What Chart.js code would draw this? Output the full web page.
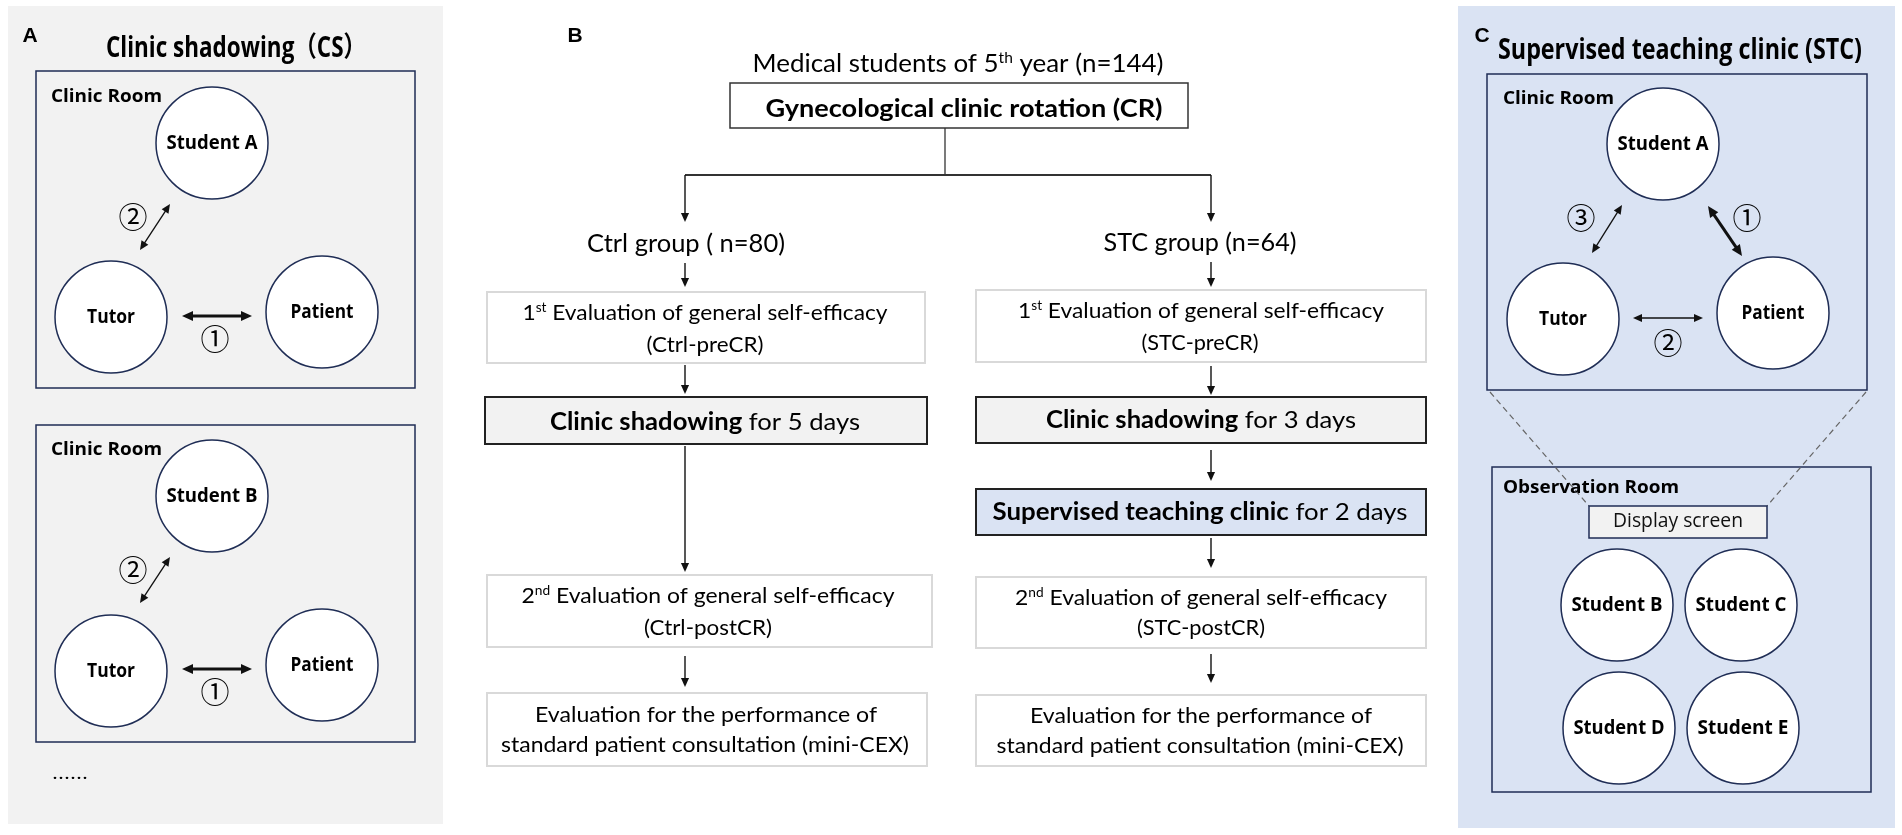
<!DOCTYPE html>
<html>
<head>
<meta charset="utf-8">
<script src="https://cdn.jsdelivr.net/npm/chart.js@4.4.1/dist/chart.umd.min.js"></script>
<style>
  html, body { margin: 0; padding: 0; background: #fff; overflow: hidden; }
  #wrap { width: 1902px; height: 835px; position: relative; }
</style>
</head>
<body>
<div id="wrap"><canvas id="diagram"></canvas></div>
<script>
// --- texts of the figure ---
const panelLetters = ['A', 'B', 'C'];
const csTitle = 'Clinic shadowing（CS）';
const stcTitle = 'Supervised teaching clinic (STC)';
const clinicRoom = 'Clinic Room';
const observationRoom = 'Observation Room';
const displayScreen = 'Display screen';
const csStudents = ['Student A', 'Student B'];
const roles = ['Tutor', 'Patient'];
const observers = ['Student B', 'Student C', 'Student D', 'Student E'];
const stepMarks = ['①', '②', '③'];
const cohort = 'Medical students of 5^th^ year (n=144)';
const rotation = '**Gynecological clinic rotation (CR)**';
const groupNames = ['Ctrl group ( n=80)', 'STC group (n=64)'];
const groupCodes = ['Ctrl', 'STC'];
const shadowDays = [5, 3];
const stcDays = [2];
const evalTitles = ['1^st^ Evaluation of general self-efficacy', '2^nd^ Evaluation of general self-efficacy'];
const evalPhases = ['preCR', 'postCR'];
const miniCex = ['Evaluation for the performance of', 'standard patient consultation (mini-CEX)'];

// --- layout (canvas units, 1902 x 835) ---
const circleSpots = [
    [212, 143], [111, 317], [322, 312],
    [212, 496], [111, 671], [322, 665],
    [1663, 144], [1563, 319], [1773, 313],
    [1617, 605], [1741, 605], [1619, 728], [1743, 728]
];
const circleNames = [csStudents[0], roles[0], roles[1], csStudents[1], roles[0], roles[1],
    csStudents[0], roles[0], roles[1], ...observers];
const circleR = 56;
const nameWidth = { Tutor: 48, Patient: 63 };

const NAVY = '#1f2d55';
const FLOW = '"Lato", "Open Sans", sans-serif';
const BOLDF = '"Open Sans", "Noto Sans CJK SC", sans-serif';
const MARKF = '"Noto Sans CJK SC", "DejaVu Sans", sans-serif';

function parseRich(str) {
    const segs = [];
    let bold = false, sup = false, buf = '';
    for (let i = 0; i < str.length; i++) {
        if (str[i] === '*' && str[i + 1] === '*') {
            if (buf) segs.push({ t: buf, bold, sup });
            buf = ''; bold = !bold; i++; continue;
        }
        if (str[i] === '^') {
            if (buf) segs.push({ t: buf, bold, sup });
            buf = ''; sup = !sup; continue;
        }
        buf += str[i];
    }
    if (buf) segs.push({ t: buf, bold, sup });
    return segs;
}

// draws text centred (or left aligned) and squeezed to a target width
function drawText(ctx, str, x, y, o) {
    const segs = parseRich(str);
    const size = o.size;
    const fontOf = s => `${(s.bold || o.bold) ? 'bold' : 'normal'} ${s.sup ? size * 0.6 : size}px ${o.family}`;
    let w = 0;
    segs.forEach(s => { ctx.font = fontOf(s); s.w = ctx.measureText(s.t).width; w += s.w; });
    const k = o.fit ? o.fit / w : 1;
    ctx.save();
    ctx.translate(x, y);
    ctx.scale(k, 1);
    ctx.fillStyle = o.color || '#000';
    ctx.textBaseline = o.middle ? 'middle' : 'alphabetic';
    ctx.textAlign = 'left';
    let cx = o.align === 'left' ? 0 : -w / 2;
    segs.forEach(s => {
        ctx.font = fontOf(s);
        ctx.fillText(s.t, cx, s.sup ? -size * 0.36 : 0);
        cx += s.w;
    });
    ctx.restore();
}

const diagramPlugin = {
    id: 'diagram',
    beforeDatasetsDraw(chart) {
        const ctx = chart.ctx;
        const X = v => chart.scales.x.getPixelForValue(v);
        const Y = v => chart.scales.y.getPixelForValue(v);

        function box(x0, y0, x1, y1, fill, stroke, lw) {
            ctx.save();
            if (fill) { ctx.fillStyle = fill; ctx.fillRect(X(x0), Y(y0), X(x1) - X(x0), Y(y1) - Y(y0)); }
            if (stroke) { ctx.strokeStyle = stroke; ctx.lineWidth = lw; ctx.strokeRect(X(x0), Y(y0), X(x1) - X(x0), Y(y1) - Y(y0)); }
            ctx.restore();
        }
        function seg(x0, y0, x1, y1, color, lw, dash) {
            ctx.save();
            ctx.strokeStyle = color; ctx.lineWidth = lw;
            if (dash) ctx.setLineDash(dash);
            ctx.beginPath(); ctx.moveTo(X(x0), Y(y0)); ctx.lineTo(X(x1), Y(y1)); ctx.stroke();
            ctx.restore();
        }
        function head(x, y, a, len, half) {
            ctx.beginPath();
            ctx.moveTo(x, y);
            ctx.lineTo(x - len * Math.cos(a) + half * Math.sin(a), y - len * Math.sin(a) - half * Math.cos(a));
            ctx.lineTo(x - len * Math.cos(a) - half * Math.sin(a), y - len * Math.sin(a) + half * Math.cos(a));
            ctx.closePath(); ctx.fill();
        }
        function arrow(x0, y0, x1, y1, lw, len, both) {
            const ax = X(x0), ay = Y(y0), bx = X(x1), by = Y(y1);
            const a = Math.atan2(by - ay, bx - ax);
            ctx.save();
            ctx.strokeStyle = '#111'; ctx.fillStyle = '#111'; ctx.lineWidth = lw;
            const s = both ? len * 0.7 : 0;
            ctx.beginPath();
            ctx.moveTo(ax + s * Math.cos(a), ay + s * Math.sin(a));
            ctx.lineTo(bx - len * 0.7 * Math.cos(a), by - len * 0.7 * Math.sin(a));
            ctx.stroke();
            head(bx, by, a, len, len * 0.45);
            if (both) head(ax, ay, a + Math.PI, len, len * 0.45);
            ctx.restore();
        }

        // panel backgrounds
        box(8, 6, 443, 824, '#f2f2f2');
        box(1458, 6, 1895, 828, '#dae3f3');

        // panel A rooms
        box(36, 71, 415, 388, null, NAVY, 1.5);
        box(36, 425, 415, 742, null, NAVY, 1.5);
        [0, 353].forEach(dy => {
            arrow(140, 250 + dy, 170, 204 + dy, 1.3, 9, true);
            arrow(182, 316 + dy, 252, 316 + dy, 3, 11, true);
        });

        // panel C rooms
        box(1487, 74, 1867, 390, null, NAVY, 1.5);
        box(1492, 467, 1871, 792, null, NAVY, 1.5);
        seg(1490, 392, 1589, 506, '#666', 1.2, [6, 4]);
        seg(1866, 392, 1767, 506, '#666', 1.2, [6, 4]);
        box(1589, 506, 1767, 538, '#f2f2f2', NAVY, 1.5);
        arrow(1592, 253, 1622, 205, 1.3, 9, true);
        arrow(1708, 206, 1742, 256, 3, 11, true);
        arrow(1633, 318, 1703, 318, 1.3, 9, true);

        // panel B flow chart
        box(730, 83, 1188, 128, '#fff', '#333', 1.5);
        seg(945, 128, 945, 175, '#333', 1.3);
        seg(685, 175, 1211, 175, '#333', 2);
        const grey = '#d9d9d9';
        box(487, 292, 925, 363, '#fff', grey, 2);
        box(976, 290, 1426, 362, '#fff', grey, 2);
        box(485, 397, 927, 444, '#f2f2f2', '#222', 2);
        box(976, 397, 1426, 443, '#f2f2f2', '#222', 2);
        box(976, 489, 1426, 535, '#dae3f3', '#222', 2);
        box(487, 575, 932, 647, '#fff', grey, 2);
        box(976, 577, 1426, 648, '#fff', grey, 2);
        box(487, 693, 927, 766, '#fff', grey, 2);
        box(976, 695, 1426, 766, '#fff', grey, 2);
        [[685, 175, 222], [1211, 175, 222], [685, 263, 287], [1211, 262, 287],
         [685, 365, 394], [1211, 366, 395], [685, 446, 572], [1211, 450, 481],
         [1211, 538, 568], [685, 656, 687], [1211, 654, 683]].forEach(([x, a, b]) => arrow(x, a, x, b, 1.4, 9));
    },
    afterDatasetsDraw(chart) {
        const ctx = chart.ctx;
        const X = v => chart.scales.x.getPixelForValue(v);
        const Y = v => chart.scales.y.getPixelForValue(v);
        const T = (s, x, y, o) => drawText(ctx, s, X(x), Y(y), o);

        // circle names, placed on the drawn points
        chart.getDatasetMeta(0).data.forEach((pt, i) => {
            const name = circleNames[i];
            drawText(ctx, name, pt.x, pt.y + 6, { size: 19, bold: true, family: BOLDF, fit: nameWidth[name] || 91 });
        });

        // panel letters
        const letterFont = { size: 21, bold: true, family: '"Liberation Sans", Arial, sans-serif' };
        T(panelLetters[0], 30, 42, letterFont);
        T(panelLetters[1], 575, 42, letterFont);
        T(panelLetters[2], 1482, 42, letterFont);

        // panel A
        T(csTitle, 236, 57, { size: 28, bold: true, family: BOLDF, fit: 260 });
        T(clinicRoom, 51, 102, { size: 18, bold: true, family: BOLDF, fit: 111, align: 'left' });
        T(clinicRoom, 51, 455, { size: 18, bold: true, family: BOLDF, fit: 111, align: 'left' });
        const mark = { size: 29, family: MARKF, middle: true };
        [0, 353].forEach(dy => {
            T(stepMarks[1], 133, 217 + dy, mark);
            T(stepMarks[0], 215, 339 + dy, mark);
        });
        T('......', 52, 779, { size: 18, family: BOLDF, fit: 36, align: 'left' });

        // panel C
        T(stcTitle, 1680, 59, { size: 28, bold: true, family: BOLDF, fit: 364 });
        T(clinicRoom, 1503, 104, { size: 18, bold: true, family: BOLDF, fit: 111, align: 'left' });
        T(observationRoom, 1503, 493, { size: 18, bold: true, family: BOLDF, fit: 176, align: 'left' });
        T(displayScreen, 1678, 527, { size: 20, family: BOLDF, fit: 130, color: '#111' });
        T(stepMarks[2], 1581, 218, mark);
        T(stepMarks[0], 1747, 218, mark);
        T(stepMarks[1], 1668, 343, mark);

        // panel B
        const f = (size, fit, bold) => ({ size, fit, bold, family: FLOW });
        T(cohort, 958, 72, f(25, 411));
        T(rotation, 964, 117, f(24, 397));
        T(groupNames[0], 686, 252, f(25, 198));
        T(groupNames[1], 1200, 251, f(25, 193));
        // left column (Ctrl)
        T(evalTitles[0], 705, 320, f(22, 365));
        T('(' + groupCodes[0] + '-' + evalPhases[0] + ')', 705, 352, f(22, 117));
        T('**Clinic shadowing** for ' + shadowDays[0] + ' days', 705, 430, f(24, 310));
        T(evalTitles[1], 708, 603, f(22, 373));
        T('(' + groupCodes[0] + '-' + evalPhases[1] + ')', 708, 635, f(22, 128));
        T(miniCex[0], 706, 722, f(22, 342));
        T(miniCex[1], 705, 752, f(22, 408));
        // right column (STC)
        T(evalTitles[0], 1201, 318, f(22, 366));
        T('(' + groupCodes[1] + '-' + evalPhases[0] + ')', 1200, 350, f(22, 117));
        T('**Clinic shadowing** for ' + shadowDays[1] + ' days', 1201, 428, f(24, 310));
        T('**Supervised teaching clinic** for ' + stcDays[0] + ' days', 1200, 520, f(24, 415));
        T(evalTitles[1], 1201, 605, f(22, 372));
        T('(' + groupCodes[1] + '-' + evalPhases[1] + ')', 1201, 635, f(22, 128));
        T(miniCex[0], 1201, 723, f(22, 342));
        T(miniCex[1], 1200, 753, f(22, 407));
    }
};

const circleData = circleSpots.map(([x, y]) => ({ x, y }));

const chart = new Chart(document.getElementById('diagram'), {
    type: 'scatter',
    data: {
        datasets: [{
            data: circleData,
            pointRadius: c => c.chart.scales.x.getPixelForValue(circleR) - c.chart.scales.x.getPixelForValue(0),
            pointHoverRadius: c => c.chart.scales.x.getPixelForValue(circleR) - c.chart.scales.x.getPixelForValue(0),
            backgroundColor: '#ffffff',
            borderColor: NAVY,
            borderWidth: 1.5
        }]
    },
    options: {
        responsive: true,
        maintainAspectRatio: false,
        animation: false,
        events: [],
        layout: { padding: 0 },
        plugins: { legend: { display: false }, tooltip: { enabled: false } },
        scales: {
            x: { type: 'linear', min: 0, max: 1902, display: false },
            y: { type: 'linear', min: 0, max: 835, reverse: true, display: false }
        }
    },
    plugins: [diagramPlugin]
});
</script>
</body>
</html>
